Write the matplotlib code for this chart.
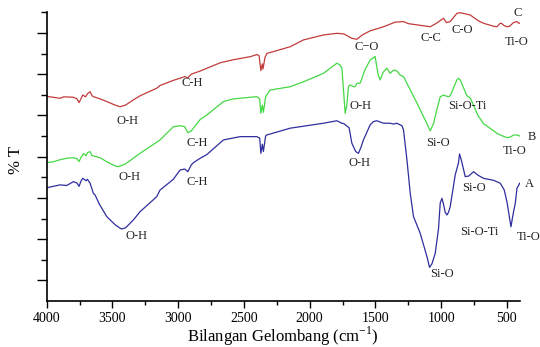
import matplotlib
matplotlib.use("Agg")
import matplotlib.pyplot as plt
from matplotlib.ticker import MultipleLocator, FixedLocator, NullFormatter

plt.rcParams['font.family'] = ['Liberation Serif', 'DejaVu Serif']
plt.rcParams['mathtext.fontset'] = 'custom'
plt.rcParams['mathtext.rm'] = 'Liberation Serif'

# ---- data (wavenumber cm-1, %T in arbitrary offset units) ----
wn_C = [4000, 3930, 3899, 3870, 3798, 3770, 3754, 3740, 3726, 3705, 3690, 3670, 3655, 3645,
        3594, 3543, 3480, 3442, 3400, 3341, 3290, 3163, 3138, 3037, 2986, 2950, 2927, 2900,
        2833, 2681, 2580, 2450, 2402, 2385, 2371, 2360, 2355, 2340, 2326, 2148, 2047, 1895,
        1793, 1740, 1680, 1641, 1600, 1540, 1438, 1350, 1286, 1250, 1184, 1083, 1040, 982,
        960, 931, 880, 855, 779, 720, 678, 600, 576, 550, 538, 520, 499, 480, 450, 423, 410, 403]
T_C = [9.92, 9.86, 9.83, 9.90, 9.88, 9.80, 9.62, 9.80, 9.99, 9.90, 10.05, 10.15, 9.95, 9.91,
       9.80, 9.67, 9.50, 9.42, 9.50, 9.75, 9.95, 10.32, 10.45, 10.70, 10.80, 10.88, 10.82, 11.0,
       11.15, 11.55, 11.70, 11.85, 11.95, 11.90, 11.17, 11.50, 11.25, 11.80, 12.0, 12.33, 12.66, 12.90,
       12.98, 12.95, 12.74, 12.69, 12.90, 13.10, 13.30, 13.52, 13.55, 13.45, 13.39, 13.30, 13.45, 13.71,
       13.50, 13.55, 13.95, 13.98, 13.87, 13.60, 13.47, 13.32, 13.30, 13.47, 13.45, 13.35, 13.30, 13.32,
       13.50, 13.55, 13.47, 13.47]

wn_B = [4000, 3950, 3899, 3848, 3800, 3770, 3754, 3740, 3720, 3700, 3690, 3670, 3655, 3594,
        3543, 3480, 3455, 3400, 3290, 3138, 3037, 2986, 2950, 2927, 2900, 2871, 2833, 2782,
        2656, 2580, 2450, 2402, 2380, 2371, 2360, 2352, 2335, 2326, 2301, 2148, 2047, 1895,
        1800, 1793, 1770, 1755, 1740, 1730, 1717, 1705, 1692, 1667, 1654, 1641, 1616, 1580,
        1540, 1509, 1502, 1480, 1464, 1440, 1413, 1388, 1362, 1337, 1311, 1286, 1184, 1108,
        1083, 1058, 1032, 1007, 982, 969, 944, 931, 880, 868, 855, 804, 779, 720, 678, 600,
        576, 550, 520, 499, 474, 449, 423, 403]
T_B = [6.71, 6.75, 6.85, 6.92, 6.95, 6.90, 6.76, 6.95, 7.15, 7.05, 7.20, 7.24, 7.05, 6.95,
       6.75, 6.55, 6.51, 6.65, 7.16, 7.81, 8.45, 8.50, 8.45, 8.16, 8.25, 8.49, 8.80, 9.02,
       9.67, 9.80, 9.88, 9.91, 9.80, 9.10, 9.50, 9.15, 9.90, 10.0, 10.23, 10.39, 10.63, 11.04,
       11.50, 11.53, 11.45, 11.30, 10.0, 9.10, 9.50, 10.39, 10.48, 10.39, 10.39, 10.56, 10.56, 11.20,
       11.69, 11.82, 11.85, 11.0, 10.72, 11.10, 11.29, 11.04, 11.20, 11.16, 10.95, 10.88, 9.60, 8.60,
       8.25, 8.60, 9.30, 9.90, 9.99, 9.95, 9.91, 9.95, 10.72, 10.80, 10.72, 9.95, 9.85, 9.00, 8.60, 8.25,
       8.13, 8.05, 7.97, 7.92, 7.95, 8.05, 8.05, 8.00]

wn_A = [4000, 3950, 3899, 3848, 3810, 3798, 3770, 3754, 3740, 3726, 3700, 3690, 3670, 3645,
        3632, 3600, 3543, 3480, 3442, 3429, 3400, 3341, 3290, 3163, 3138, 3037, 2986, 2950,
        2927, 2900, 2884, 2833, 2782, 2656, 2529, 2402, 2380, 2371, 2360, 2352, 2335, 2326,
        2148, 1895, 1793, 1755, 1740, 1700, 1679, 1650, 1629, 1610, 1591, 1540, 1515, 1489,
        1438, 1388, 1362, 1337, 1311, 1298, 1286, 1260, 1235, 1210, 1159, 1108, 1088, 1070,
        1045, 1020, 1007, 994, 982, 969, 956, 944, 931, 893, 868, 860, 845, 817, 804, 792,
        753, 720, 678, 600, 550, 520, 499, 469, 450, 436, 423, 411, 403]
T_A = [5.49, 5.56, 5.63, 5.60, 5.74, 5.79, 5.72, 5.56, 5.80, 5.95, 5.83, 5.90, 5.71, 5.22,
       5.14, 4.70, 4.09, 3.70, 3.53, 3.49, 3.55, 3.93, 4.33, 5.06, 5.38, 5.90, 6.35, 6.40,
       6.27, 6.60, 6.71, 6.92, 7.10, 7.81, 7.97, 7.97, 7.90, 7.16, 7.60, 7.25, 8.00, 8.05,
       8.38, 8.62, 8.74, 8.62, 8.60, 8.40, 7.65, 7.25, 7.16, 7.45, 7.81, 8.54, 8.70, 8.74,
       8.62, 8.62, 8.58, 8.62, 8.54, 8.50, 8.29, 6.84, 5.22, 4.09, 3.28, 2.15, 1.63, 1.80,
       2.31, 3.50, 4.75, 4.98, 4.70, 4.30, 4.17, 4.30, 4.57, 6.11, 6.70, 7.13, 6.80, 6.03, 6.05, 6.05,
       6.27, 6.10, 5.95, 5.85, 5.71, 5.38, 4.80, 3.60, 4.30, 4.74, 5.47, 5.60, 5.71]

labels_txt = ["C", "Ti-O", "C-O", "C-C", "C\u2212O", "C-H", "O-H",
              "C-H", "O-H", "O-H", "Si-O-Ti", "Si-O", "B", "Ti-O",
              "C-H", "O-H", "O-H", "Si-O", "A", "Si-O-Ti", "Ti-O", "Si-O"]
labels_x = [419, 423, 842, 1075, 1570, 2897, 3387,
            2859, 3371, 1616, 804, 1028, 314, 442,
            2854, 3315, 1621, 748, 327, 708, 337, 994]
labels_y = [13.95, 12.58, 13.14, 12.74, 12.30, 10.56, 8.74,
            7.68, 6.00, 9.46, 9.46, 7.68, 7.97, 7.27,
            5.76, 3.15, 6.68, 5.47, 5.66, 3.36, 3.09, 1.31]

xticks = [4000, 3500, 3000, 2500, 2000, 1500, 1000, 500]

fig = plt.figure(figsize=(5.40, 3.47), dpi=100)
ax = fig.add_axes([0.0865, 0.1326, 0.963 - 0.0865, 0.9646 - 0.1326])

ax.plot(wn_C, T_C, color='#c23b3b', lw=0.9)
ax.plot(wn_B, T_B, color='#44d844', lw=0.9)
ax.plot(wn_A, T_A, color='#2e2e9e', lw=0.9)

for t, x, y in zip(labels_txt, labels_x, labels_y):
    ax.text(x, y, t, fontsize=9, ha='center', va='center', color='#222222', clip_on=False)

ax.set_xlim(4000, 400)
ax.set_ylim(0, 14)
ax.xaxis.set_major_locator(FixedLocator(xticks))
ax.xaxis.set_minor_locator(MultipleLocator(250))
ax.yaxis.set_major_locator(FixedLocator([1, 3, 5, 7, 9, 11, 13]))
ax.yaxis.set_minor_locator(FixedLocator([2, 4, 6, 8, 10, 12, 14]))
ax.yaxis.set_major_formatter(NullFormatter())
ax.tick_params(axis='x', which='major', direction='out', length=5, width=1, labelsize=10, pad=3)
ax.tick_params(axis='x', which='minor', direction='out', length=3, width=1)
ax.tick_params(axis='y', which='major', direction='out', length=7, width=1)
ax.tick_params(axis='y', which='minor', direction='out', length=4, width=1)
for s in ['top', 'right']:
    ax.spines[s].set_visible(False)
for s in ['left', 'bottom']:
    ax.spines[s].set_linewidth(1.2)

fig.text(283 / 540, 1 - 336 / 347, "Bilangan Gelombang (cm$^{\\mathregular{-1}}$)",
         fontsize=12, ha='center', va='center')
fig.text(16 / 540, 1 - 160 / 347, "% T", fontsize=12, ha='center', va='center', rotation=90)

fig.savefig("out.png", dpi=100)
